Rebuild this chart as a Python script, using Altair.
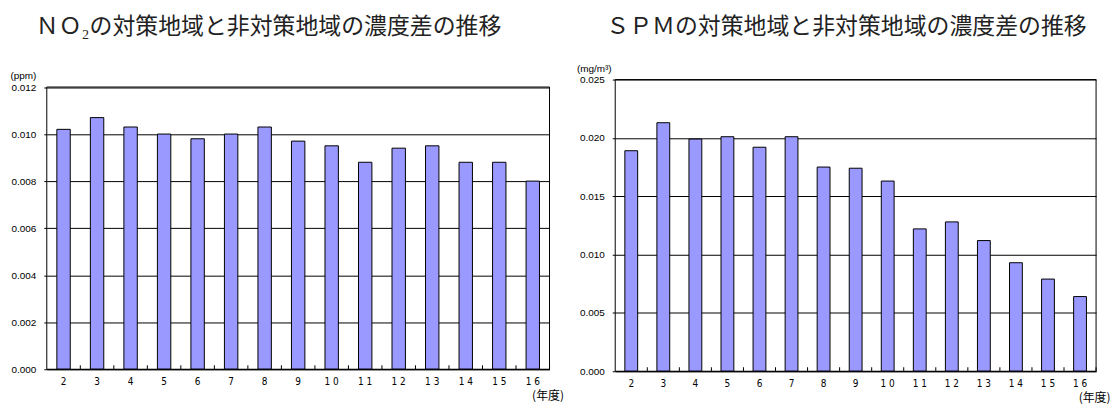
import altair as alt
import pandas as pd

# fiscal years (Heisei), shown with spaced digits
years = ["2", "3", "4", "5", "6", "7", "8", "9",
         "1 0", "1 1", "1 2", "1 3", "1 4", "1 5", "1 6"]

# concentration difference between control and non-control areas
no2_diff = [0.0102, 0.0107, 0.0103, 0.0100, 0.0098, 0.0100, 0.0103, 0.0097,
            0.0095, 0.0088, 0.0094, 0.0095, 0.0088, 0.0088, 0.0080]
spm_diff = [0.0189, 0.0213, 0.0199, 0.0201, 0.0192, 0.0201, 0.0175, 0.0174,
            0.0163, 0.0122, 0.0128, 0.0112, 0.0093, 0.0079, 0.0064]

no2_ticks = [0.000, 0.002, 0.004, 0.006, 0.008, 0.010, 0.012]
spm_ticks = [0.000, 0.005, 0.010, 0.015, 0.020, 0.025]

no2_title = "ＮＯ₂の対策地域と非対策地域の濃度差の推移"
spm_title = "ＳＰＭの対策地域と非対策地域の濃度差の推移"

BAR_FILL = "#9999ff"
INK = "#000000"
LATIN = "Liberation Sans"
NARROW = "Liberation Sans Narrow, DejaVu Sans Condensed, sans-serif"
CJK = "Noto Sans CJK JP"


def panel(values, ticks, unit, title, width, height, top_gap,
          title_dx, title_offset, unit_x, unit_y, year_x, year_y):
    df = pd.DataFrame({"year": years, "value": values})

    x = alt.X(
        "year:N", sort=None,
        scale=alt.Scale(paddingInner=0.6, paddingOuter=0.3),
        axis=alt.Axis(
            title="(年度)", titleFont=CJK, titleFontSize=12,
            titleFontWeight="normal", titleColor=INK,
            titleAnchor="start", titleAlign="left", titleBaseline="top",
            titleX=year_x, titleY=year_y,
            labelAngle=0, labelFont=NARROW, labelFontSize=10,
            labelColor=INK, labelPadding=7,
            ticks=False, grid=False, domainColor=INK, domainWidth=1,
        ),
    )
    y = alt.Y(
        "value:Q",
        scale=alt.Scale(domain=[0, ticks[-1]], nice=False, zero=True,
                        range=[height, top_gap]),
        axis=alt.Axis(
            values=ticks, format=".3f",
            title=unit, titleFont=LATIN, titleFontSize=10,
            titleFontWeight="normal", titleColor=INK, titleAngle=0,
            titleAlign="left", titleBaseline="middle",
            titleX=unit_x, titleY=unit_y,
            labelFont=LATIN, labelFontSize=10, labelColor=INK,
            labelPadding=8, tickSize=3, tickColor=INK,
            grid=True, gridColor=INK, gridWidth=1,
            domain=False,
        ),
    )

    bars = alt.Chart(df).mark_bar(
        fill=BAR_FILL, stroke=INK, strokeWidth=1
    ).encode(x=x, y=y)

    # short inward tick marks on the category boundaries of the x axis
    inner_ticks = alt.Chart(df).mark_rule(
        color=INK, strokeWidth=1, xOffset=width / 30
    ).encode(x=x, y=alt.value(height), y2=alt.value(height - 4))

    # plot-area frame around the scale's range
    frame = alt.Chart(pd.DataFrame({"k": [0]})).mark_rect(
        fill="transparent", stroke=INK, strokeWidth=1
    ).encode(
        x=alt.value(0), x2=alt.value(width),
        y=alt.value(top_gap), y2=alt.value(height),
    )

    return alt.layer(bars, inner_ticks, frame).properties(
        width=width, height=height,
        view=alt.ViewBackground(stroke="transparent"),
        title=alt.TitleParams(
            text=title, anchor="start", frame="group", dx=title_dx,
            offset=title_offset, font=CJK, fontSize=23,
            fontWeight="normal", color="#222222",
        ),
    )


left = panel(no2_diff, no2_ticks, "(ppm)", no2_title,
             width=505, height=291, top_gap=7.5,
             title_dx=-11, title_offset=31,
             unit_x=-37, unit_y=-4.5, year_x=487, year_y=21)
right = panel(spm_diff, spm_ticks, "(mg/m³)", spm_title,
              width=483, height=293, top_gap=0,
              title_dx=-9, title_offset=25,
              unit_x=-39, unit_y=-11, year_x=465, year_y=21)

chart = alt.concat(
    left, right, columns=2, spacing=11, bounds="full"
).configure(
    padding={"left": 9, "top": 14, "right": 0, "bottom": 0},
    background="white",
)

chart.save("out.html", embed_options={"renderer": "svg", "actions": False})
